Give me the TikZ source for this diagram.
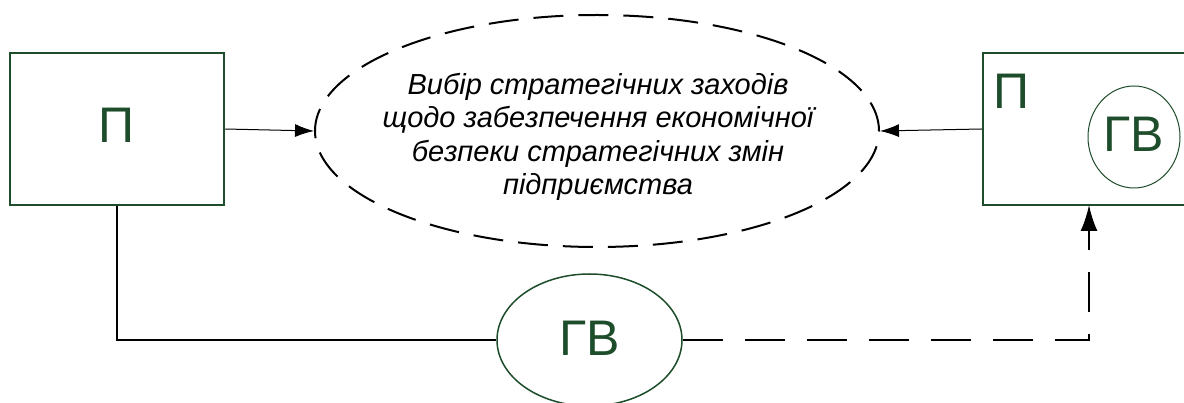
\documentclass[tikz,border=0pt]{standalone}
\usepackage{fontspec}
\setmainfont{Liberation Sans}
\usetikzlibrary{arrows.meta,shapes.geometric}
\definecolor{dkgreen}{RGB}{30,77,43}
\begin{document}
\begin{tikzpicture}[x=1pt,y=-1pt,
  gbox/.style={draw=dkgreen,line width=2.5pt,fill=white,inner sep=0pt},
  gtext/.style={text=dkgreen,inner sep=0pt,font=\fontsize{50}{55}\selectfont},
  thinarrow/.style={draw=black,line width=1pt,-{Latex[length=19pt,width=13pt]}},
  dasharrow/.style={draw=black,line width=2pt,dash pattern=on 40pt off 22pt,-{Latex[length=26pt,width=17pt]}},
  solidline/.style={draw=black,line width=2pt}]
\useasboundingbox (0,0) rectangle (1184,403);
\fill[white] (0,0) rectangle (1184,403);
% boxes
\node[gbox,minimum width=214pt,minimum height=152pt] (L) at (117,129) {};
\node[gbox,minimum width=240pt,minimum height=152pt] (R) at (1103,129) {};
\node[gtext] (Lt) at (116.5,125.5) {П};
\node[gtext] (Rt) at (1011,91.5) {П};
% circle inside right box
\node[ellipse,draw=dkgreen,line width=1pt,minimum width=92pt,minimum height=102pt,inner sep=0pt] (C) at (1134,137) {};
\node[gtext] (Ct) at (1133.5,134.5) {ГВ};
% big dashed ellipse
\node[ellipse,draw=black,line width=2pt,dash pattern=on 30pt off 15pt,minimum width=564pt,minimum height=232pt,inner sep=0pt] (E) at (597,131) {};
\node[align=center,inner sep=0pt,font=\itshape\fontsize{29}{33.5}\selectfont] (Et) at (598,137) {Вибір стратегічних заходів\\щодо забезпечення економічної\\безпеки стратегічних змін\\підприємства};
% bottom ellipse
\node[ellipse,draw=dkgreen,line width=1.5pt,minimum width=185pt,minimum height=132pt,inner sep=0pt,fill=white] (G) at (589.5,340) {};
\node[gtext] (Gt) at (589.5,338) {ГВ};
\coordinate (Rin) at (1089,205);
% connectors
\draw[thinarrow] (L.east) -- (E.west);
\draw[thinarrow] (R.west) -- (E.east);
\draw[solidline] (L.south) |- (G.west);
\draw[dasharrow] (G.east) -| (Rin);
\end{tikzpicture}
\end{document}
